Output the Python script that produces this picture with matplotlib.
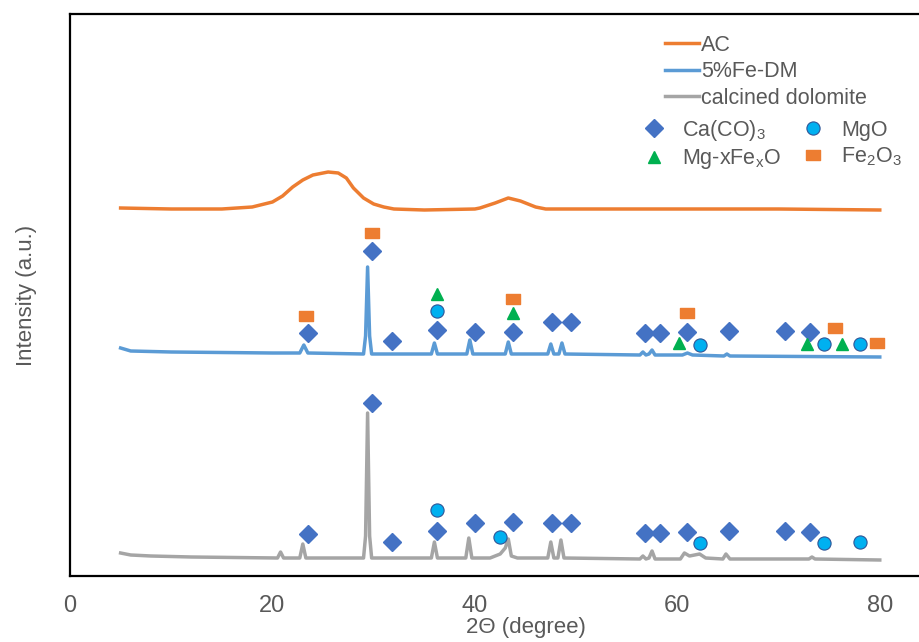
import matplotlib.pyplot as plt

plt.rcParams['font.family'] = ['Liberation Sans', 'DejaVu Sans']
plt.rcParams['mathtext.default'] = 'regular'

# traces, intensity in arbitrary units (offset stacked)
ac_x = [5, 10, 15, 18, 20, 21, 22, 23, 24, 25, 25.5, 26.5, 27.3, 28, 29, 30, 31, 32,
        35, 40, 40.5, 42, 43.3, 44.5, 46, 47, 50, 60, 70, 80]
ac_y = [368, 367, 367, 369, 374, 380, 389, 396, 401, 403, 404, 403, 398, 388, 378, 372, 369, 367,
        366, 367, 368, 373, 378, 375, 369, 367, 367, 367, 367, 366]

fe_x = [5, 6, 10, 20, 22.7, 23.1, 23.5, 29.0, 29.2, 29.4, 29.6, 29.8, 35.7, 36.0, 36.3,
        39.2, 39.5, 39.8, 43.0, 43.3, 43.6, 47.2, 47.5, 47.8, 48.3, 48.6, 48.9,
        56.3, 56.6, 56.9, 57.2, 57.5, 57.8, 60.5, 61.0, 61.5, 64.6, 64.9, 65.2, 80]
fe_y = [228, 225, 224, 223, 223, 231, 223, 222, 240, 309, 240, 222, 222, 233, 222,
        222, 236, 222, 222, 234, 222, 222, 232, 222, 222, 233, 222,
        221, 224, 221, 222, 226, 221, 221, 223, 221, 220, 222, 220, 219]

cd_x = [5, 6, 8, 12, 20.5, 20.8, 21.1, 22.7, 23.0, 23.3, 29.0, 29.2, 29.4, 29.6, 29.8,
        35.7, 36.0, 36.3, 39.1, 39.4, 39.7, 41.5, 42.5, 43.0, 43.3, 43.6, 44.2,
        47.2, 47.5, 47.8, 48.2, 48.5, 48.8, 56.3, 56.6, 56.9, 57.2, 57.5, 57.8,
        60.3, 60.7, 61.2, 62.2, 62.8, 64.5, 64.8, 65.2, 73.0, 73.3, 73.6, 80]
cd_y = [23, 21, 20, 19, 18, 24, 18, 18, 32, 18, 18, 40, 163, 40, 18,
        18, 34, 18, 18, 38, 18, 18, 22, 28, 37, 20, 18,
        18, 34, 18, 18, 36, 18, 17, 20, 17, 18, 25, 17,
        17, 23, 20, 22, 18, 17, 22, 17, 17, 19, 17, 16]

# phase markers (2theta, height) for both patterns
caco3_x = [23.5, 29.8, 31.8, 36.3, 40.0, 43.75, 47.6, 49.5, 56.8, 58.3, 61.0, 65.1, 70.6, 73.1,
           23.5, 29.8, 31.8, 36.3, 40.0, 43.75, 47.6, 49.5, 56.8, 58.3, 61.0, 65.1, 70.6, 73.1]
caco3_y = [243, 325, 235, 246, 244, 244, 254, 254, 243, 243, 244, 245, 245, 244,
           42, 173, 34, 45, 53, 54, 53, 53, 43, 43, 44, 45, 45, 44]
mgo_x = [36.3, 62.2, 74.5, 78.0,
         36.3, 42.5, 62.2, 74.5, 78.0]
mgo_y = [265, 231, 232, 232,
         66, 39, 33, 33, 34]
mgfe_x = [36.3, 43.75, 60.2, 72.8, 76.3]
mgfe_y = [282, 263, 233, 232, 232]
fe2o3_x = [23.3, 29.8, 43.75, 61.0, 75.6, 79.7]
fe2o3_y = [260, 343, 277, 263, 248, 233]

fig = plt.figure(figsize=(9.2, 6.42), dpi=100)
ax = fig.add_axes([70 / 920, 66 / 642, 911 / 920, 562 / 642])

l1, = ax.plot(ac_x, ac_y, color='#ED7D31', lw=2.5, label='AC')
l2, = ax.plot(fe_x, fe_y, color='#5B9BD5', lw=2.5, label='5%Fe-DM')
l3, = ax.plot(cd_x, cd_y, color='#A5A5A5', lw=2.5, label='calcined dolomite')

m1, = ax.plot(caco3_x, caco3_y, 'D', ms=9, color='#4472C4', mec='#4472C4', label='Ca(CO)$_3$')
m2, = ax.plot(mgo_x, mgo_y, 'o', ms=9.5, color='#00B0F0', mec='#2F5597', mew=0.8, label='MgO')
m3, = ax.plot(mgfe_x, mgfe_y, '^', ms=9, color='#00B050', mec='#00B050', label='Mg-xFe$_x$O')
sq = [(-1, -0.75), (1, -0.75), (1, 0.75), (-1, 0.75), (-1, -0.75)]
m4, = ax.plot(fe2o3_x, fe2o3_y, ls='none', marker=sq, ms=10, color='#ED7D31', label='Fe$_2$O$_3$')

ax.set_xlim(0, 90)
ax.set_ylim(0, 562)
ax.set_xticks([0, 20, 40, 60, 80])
ax.set_yticks([])
ax.tick_params(axis='x', length=0, pad=14, labelsize=17, labelcolor='#595959')
ax.spines['right'].set_visible(False)
for s in ['left', 'top', 'bottom']:
    ax.spines[s].set_linewidth(1.6)
    ax.spines[s].set_color('black')
ax.set_xlabel('2Θ (degree)', fontsize=16, color='#595959', labelpad=0)
ax.set_ylabel('Intensity (a.u.)', fontsize=16, color='#595959', labelpad=24)

leg1 = ax.legend(handles=[l1, l2, l3], loc='upper left', bbox_to_anchor=(654 / 920, 1 - 24 / 642),
                 bbox_transform=fig.transFigure, frameon=False, fontsize=15.5,
                 handlelength=1.6, handletextpad=0.1, labelspacing=0.25, borderpad=0,
                 labelcolor='#595959')
ax.add_artist(leg1)
ax.legend(handles=[m1, m3, m2, m4], ncol=2, loc='upper left', bbox_to_anchor=(630 / 920, 1 - 107 / 642),
          bbox_transform=fig.transFigure, frameon=False, fontsize=15.5,
          handlelength=1.2, handletextpad=0.7, labelspacing=0.2, columnspacing=0.9, borderpad=0,
          labelcolor='#595959')

fig.savefig('out.png', dpi=100)
